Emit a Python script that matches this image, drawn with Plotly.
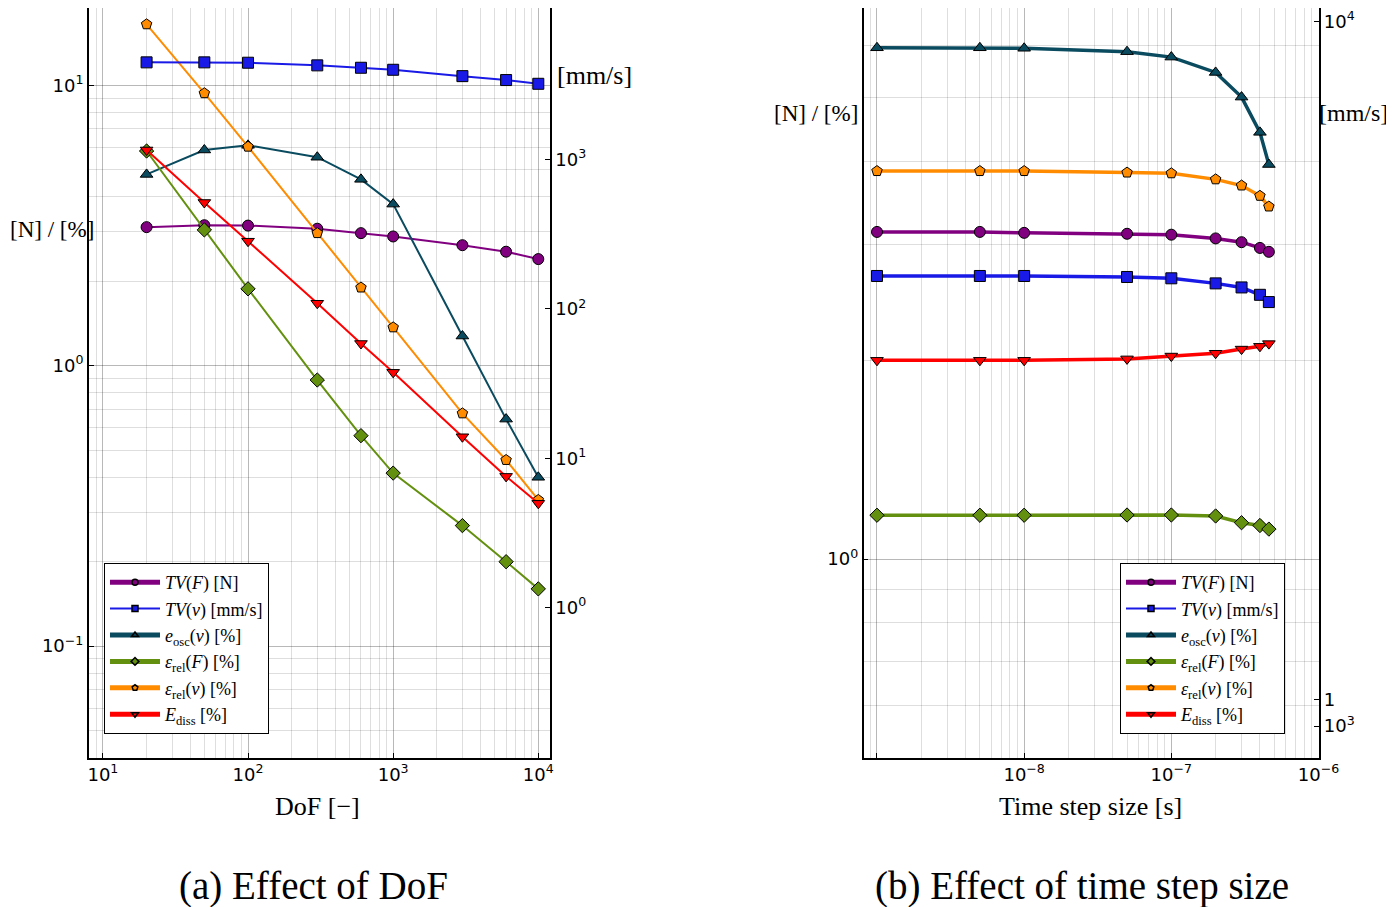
import plotly.graph_objects as go

# ---- data: (a) effect of DoF ----
dof = [20, 50, 100, 300, 600, 1000, 3000, 6000, 10000]
tv_f_a = [3.12, 3.17, 3.16, 3.08, 2.97, 2.89, 2.69, 2.55, 2.40]
tv_v_a = [4467, 4467, 4442, 4266, 4111, 3985, 3613, 3401, 3211]
e_osc_a = [4.81, 5.88, 6.11, 5.54, 4.62, 3.77, 1.276, 0.645, 0.40]
eps_f_a = [5.83, 3.05, 1.88, 0.889, 0.563, 0.414, 0.269, 0.200, 0.160]
eps_v_a = [16.5, 9.37, 6.04, 2.97, 1.90, 1.37, 0.676, 0.461, 0.332]
e_diss_a = [5.88, 3.82, 2.78, 1.67, 1.20, 0.947, 0.558, 0.403, 0.323]

# ---- data: (b) effect of time step size ----
dt = [1e-9, 5e-9, 1e-8, 5e-8, 1e-7, 2e-7, 3e-7, 4e-7, 4.6e-7]
tv_f_b = [3.13, 3.13, 3.12, 3.11, 3.10, 3.06, 3.02, 2.96, 2.92]
tv_v_b = [4355, 4355, 4355, 4341, 4322, 4251, 4195, 4095, 3999]
e_osc_b = [5.95, 5.95, 5.94, 5.87, 5.76, 5.46, 5.01, 4.43, 3.96]
eps_f_b = [1.165, 1.165, 1.165, 1.166, 1.166, 1.162, 1.135, 1.124, 1.11]
eps_v_b = [3.87, 3.87, 3.87, 3.85, 3.84, 3.76, 3.68, 3.55, 3.42]
e_diss_b = [2.00, 2.00, 2.00, 2.01, 2.03, 2.05, 2.08, 2.10, 2.12]

names = ['<i>TV</i>(<i>F</i>) [N]',
         '<i>TV</i>(<i>v</i>) [mm/s]',
         '<i>e</i><sub>osc</sub>(<i>v</i>) [%]',
         '<i>ε</i><sub>rel</sub>(<i>F</i>) [%]',
         '<i>ε</i><sub>rel</sub>(<i>v</i>) [%]',
         '<i>E</i><sub>diss</sub> [%]']
colors = ['#800080', '#1a1ae6', '#0a4b60', '#64900f', '#ff8c00', '#ff0000']
symbols = ['circle', 'square', 'triangle-up', 'diamond', 'pentagon', 'triangle-down']
on_right = [False, True, False, False, False, False]
legend_width = [5, 2, 5, 5, 5, 5]

SERIF = 'Liberation Serif'
SANS = 'DejaVu Sans'

# page is drawn with an 8px body margin, so the figure is a bit smaller
W, H, OFF = 1386, 899, 8


def px_x(p):
    return (p - OFF) / W


def px_y(p):
    return 1 - (p - OFF) / H


def minor_vals(e0, e1):
    return [m * 10.0 ** e for e in range(e0, e1) for m in range(2, 10)]


fig = go.Figure()

series_a = [tv_f_a, tv_v_a, e_osc_a, eps_f_a, eps_v_a, e_diss_a]
series_b = [tv_f_b, tv_v_b, e_osc_b, eps_f_b, eps_v_b, e_diss_b]

for panel, xs, series, xa, ya, ya2, lw, ms, leg in [
        ('a', dof, series_a, 'x', 'y', 'y2', 2, 11, 'legend'),
        ('b', dt, series_b, 'x2', 'y3', 'y4', 3.5, 11, 'legend2')]:
    for i, ys in enumerate(series):
        fig.add_trace(go.Scatter(
            x=xs, y=ys, name=names[i], mode='lines+markers', showlegend=False,
            xaxis=xa, yaxis=ya2 if on_right[i] else ya,
            line=dict(color=colors[i], width=lw),
            marker=dict(symbol=symbols[i], size=ms, color=colors[i],
                        line=dict(color='black', width=1))))
    # legend entries (thick line, tiny marker, as in the original)
    for i in range(len(names)):
        fig.add_trace(go.Scatter(
            x=[None], y=[None], name=names[i], mode='lines+markers',
            xaxis=xa, yaxis=ya, legend=leg,
            line=dict(color=colors[i], width=legend_width[i]),
            marker=dict(symbol=symbols[i], size=6, color=colors[i],
                        line=dict(color='black', width=1.5))))

grid_major = 'rgba(0,0,0,0.28)'
grid_minor = 'rgba(0,0,0,0.13)'
tickfont = dict(family=SANS, size=18, color='black')


def axis(**kw):
    d = dict(type='log', showline=True, linecolor='black', linewidth=1.5,
             ticks='inside', ticklen=5, tickcolor='black', tickfont=tickfont,
             tickmode='array', showgrid=True, gridcolor=grid_major, gridwidth=1,
             zeroline=False, automargin=False)
    d.update(kw)
    return d


def sup(e):
    return '10<sup>' + str(e).replace('-', '−') + '</sup>'


ydom = [px_y(757.7), 1.0]
legfont = dict(family=SERIF, size=18, color='black')

fig.update_layout(
    width=W, height=H, autosize=False,
    margin=dict(l=0, r=0, t=0, b=0, pad=0, autoexpand=False),
    paper_bgcolor='white', plot_bgcolor='white',
    xaxis=axis(domain=[px_x(88.75), px_x(550)], range=[0.9025, 4.0806], anchor='y',
               tickvals=[10, 100, 1000, 10000], ticktext=[sup(1), sup(2), sup(3), sup(4)],
               minor=dict(tickmode='array', tickvals=minor_vals(0, 4), showgrid=True,
                          gridcolor=grid_minor, ticks='')),
    yaxis=axis(domain=ydom, range=[-1.398, 1.2757], anchor='x',
               tickvals=[0.1, 1, 10], ticktext=[sup(-1), sup(0), sup(1)],
               minor=dict(tickmode='array', tickvals=minor_vals(-2, 2), showgrid=True,
                          gridcolor=grid_minor, ticks='')),
    yaxis2=axis(overlaying='y', side='right', anchor='x', range=[-1.005, 4.014],
                tickvals=[1, 10, 100, 1000], ticktext=[sup(0), sup(1), sup(2), sup(3)],
                showgrid=False),
    xaxis2=axis(domain=[px_x(863.6), px_x(1318.5)], range=[-9.091, -6.0], anchor='y3',
                tickvals=[1e-9, 1e-8, 1e-7, 1e-6], ticktext=['', sup(-8), sup(-7), sup(-6)],
                minor=dict(tickmode='array', tickvals=minor_vals(-10, -6), showgrid=True,
                           gridcolor=grid_minor, ticks='')),
    yaxis3=axis(domain=ydom, range=[-0.301, 0.8348], anchor='x2',
                tickvals=[1], ticktext=[sup(0)],
                minor=dict(tickmode='array', tickvals=minor_vals(-1, 1), showgrid=True,
                           gridcolor=grid_minor, ticks='')),
    yaxis4=axis(overlaying='y3', side='right', anchor='x2', range=[2.955, 4.0195],
                tickvals=[1000, 1091, 10000], ticktext=[sup(3), '1', sup(4)],
                showgrid=False),
    legend=dict(x=px_x(104), y=px_y(563), xanchor='left', yanchor='top',
                bgcolor='white', bordercolor='black', borderwidth=1,
                font=legfont, itemwidth=50, tracegroupgap=0),
    legend2=dict(x=px_x(1120), y=px_y(563), xanchor='left', yanchor='top',
                 bgcolor='white', bordercolor='black', borderwidth=1,
                 font=legfont, itemwidth=50, tracegroupgap=0),
)

label_font = dict(family=SERIF, size=26, color='black')
side_font = dict(family=SERIF, size=23, color='black')
cap_font = dict(family=SERIF, size=39, color='black')
texts = [
    ('[N] / [%]', 8, 229, side_font, 'left'),
    ('[mm/s]', 594, 76, label_font, 'center'),
    ('DoF [−]', 317, 806, label_font, 'center'),
    ('[N] / [%]', 816, 113, side_font, 'center'),
    ('[mm/s]', 1390, 113, dict(family=SERIF, size=24, color='black'), 'right'),
    ('Time step size [s]', 1090, 806, label_font, 'center'),
    ('(a) Effect of DoF', 313, 886, cap_font, 'center'),
    ('(b) Effect of time step size', 1082, 886, cap_font, 'center'),
]
for t, px, py, f, anchor in texts:
    fig.add_annotation(text=t, x=px_x(px), y=px_y(py), xref='paper', yref='paper',
                       xanchor=anchor, yanchor='middle', showarrow=False, font=f)

fig.write_html("out.html")
